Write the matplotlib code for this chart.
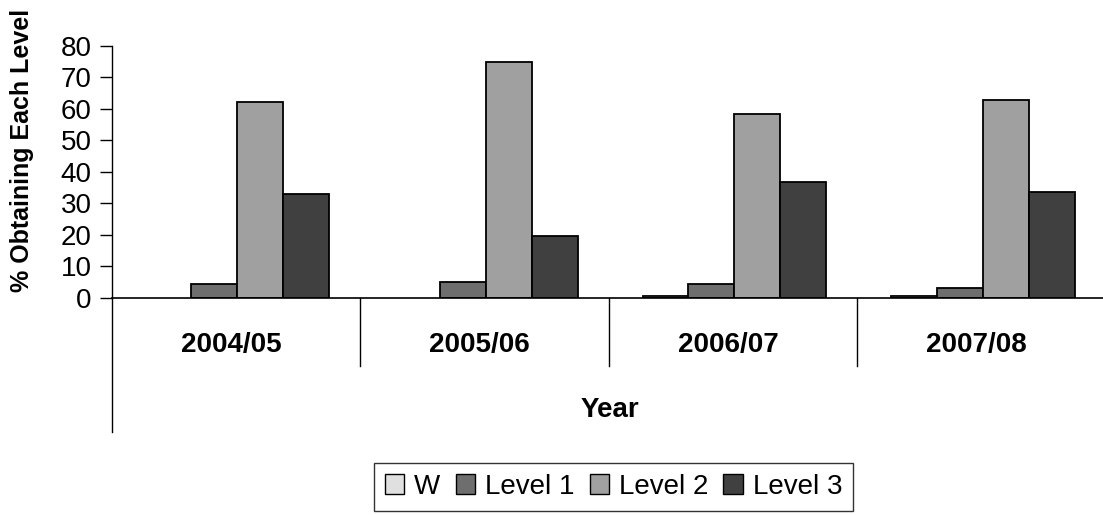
import matplotlib
matplotlib.use("Agg")
import matplotlib.pyplot as plt
import numpy as np
from matplotlib.lines import Line2D

plt.rcParams['font.family'] = ['Liberation Sans', 'DejaVu Sans']

years = ["2004/05", "2005/06", "2006/07", "2007/08"]
series_names = ["W", "Level 1", "Level 2", "Level 3"]
w_vals = [0.0, 0.0, 0.4, 0.4]
level1_vals = [4.3, 4.9, 4.3, 3.1]
level2_vals = [62.2, 74.8, 58.3, 62.7]
level3_vals = [32.9, 19.5, 36.7, 33.5]
colors = ["#e0e0e0", "#6e6e6e", "#a0a0a0", "#404040"]
yticks = [0, 10, 20, 30, 40, 50, 60, 70, 80]

W, H = 1103, 515
fig = plt.figure(figsize=(W / 100, H / 100), dpi=100)
ax_left = 111.7 / W
ax_bottom = (H - 297.7) / H
ax_top = (H - 46) / H
ax = fig.add_axes([ax_left, ax_bottom, 1 - ax_left, ax_top - ax_bottom])

x = np.arange(len(years))
bw = 0.185
all_vals = [w_vals, level1_vals, level2_vals, level3_vals]
for i, (vals, name, c) in enumerate(zip(all_vals, series_names, colors)):
    lws = [1.3 if v > 0 else 0 for v in vals]
    ax.bar(x + (i - 1.5) * bw + 0.006, vals, width=bw, color=c,
           edgecolor="black", linewidth=lws, label=name, zorder=3)

ax.set_xlim(-0.5, 3.489)
ax.set_ylim(0, 80)
ax.set_yticks(yticks)
ax.set_yticklabels([str(t) for t in yticks], fontsize=20)
ax.tick_params(axis='y', direction='out', length=8.5, width=1, pad=6)
ax.set_xticks([])
for s in ["top", "right"]:
    ax.spines[s].set_visible(False)
ax.spines["left"].set_linewidth(1)
ax.spines["bottom"].set_linewidth(1.2)
ax.spines["bottom"].set_zorder(4)

axh = 297.7 - 46
sep_bottom = -(366 - 297.7) / axh
yaxis_bottom = -(432.3 - 297.7) / axh
trans = ax.get_xaxis_transform()
for b in [0.5, 1.5, 2.5]:
    ax.add_line(Line2D([b, b], [0, sep_bottom], transform=trans, color="black",
                       linewidth=1, clip_on=False))
ax.add_line(Line2D([-0.5, -0.5], [0, yaxis_bottom], transform=trans, color="black",
                   linewidth=1, clip_on=False))

lab_y = -(345 - 297.7) / axh
for xi, yr in zip(x, years):
    ax.text(xi - 0.02, lab_y, yr, transform=trans, ha="center", va="center",
            fontsize=20, fontweight="bold")

fig.text(610 / W, 1 - 410 / H, "Year", ha="center", va="center",
         fontsize=20, fontweight="bold")
fig.text(22 / W, 1 - 150 / H, "% Obtaining Each Level", ha="center", va="center",
         rotation=90, fontsize=18, fontweight="bold")

leg = fig.legend(loc="center", bbox_to_anchor=(613.5 / W, 1 - 487 / H), ncol=4,
                 fontsize=20, frameon=True, fancybox=False, edgecolor="black",
                 handlelength=0.7, handleheight=0.75, handletextpad=0.35,
                 columnspacing=0.55, borderpad=0.4, borderaxespad=0)
leg.get_frame().set_linewidth(1)
for p in leg.get_patches():
    p.set_linewidth(1)

fig.savefig("out.png", dpi=100)
